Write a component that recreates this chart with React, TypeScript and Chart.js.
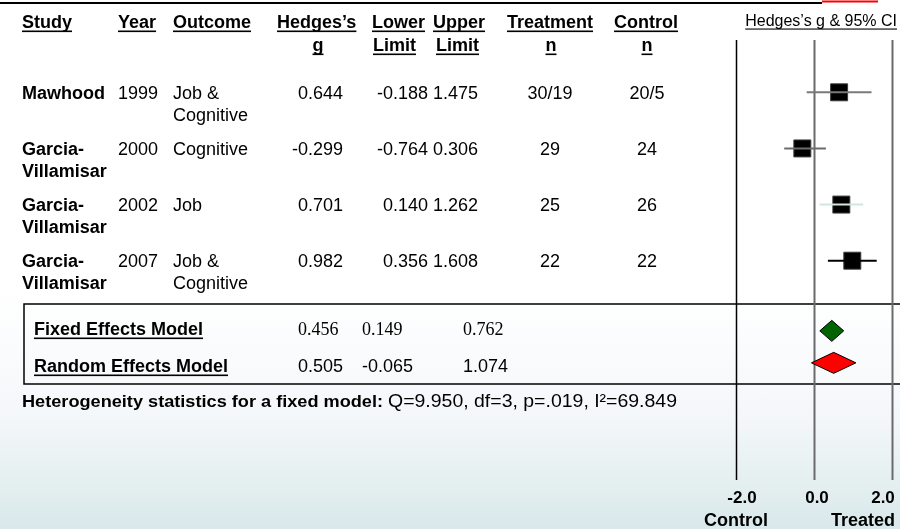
import { useEffect, useRef } from "react";
import { Chart, registerables } from "chart.js";

Chart.register(...registerables);

// ---- Study table data ----
const STUDY_NAME_1 = ["Mawhood", "Garcia-", "Garcia-", "Garcia-"];
const STUDY_NAME_2 = ["", "Villamisar", "Villamisar", "Villamisar"];
const YEARS = ["1999", "2000", "2002", "2007"];
const OUTCOME_1 = ["Job &", "Cognitive", "Job", "Job &"];
const OUTCOME_2 = ["Cognitive", "", "", "Cognitive"];
const HEDGES_G = [0.644, -0.299, 0.701, 0.982];
const LOWER_LIMIT = [-0.188, -0.764, 0.14, 0.356];
const UPPER_LIMIT = [1.475, 0.306, 1.262, 1.608];
const TREATMENT_N = ["30/19", "29", "25", "22"];
const CONTROL_N = ["20/5", "24", "26", "22"];

// ---- Pooled models ----
const MODEL_NAMES = ["Fixed Effects Model", "Random Effects Model"];
const MODEL_G = [0.456, 0.505];
const MODEL_LOWER = [0.149, -0.065];
const MODEL_UPPER = [0.762, 1.074];

// ---- Axis ----
const AXIS_TICKS = [-2, 0, 2];
const AXIS_SIDES = ["Control", "Treated"];
const HETEROGENEITY_LABEL = "Heterogeneity statistics for a fixed model:";
const HETEROGENEITY_VALUES = "Q=9.950, df=3, p=.019, I\u00B2=69.849";

// ---- Layout (row slots on the y scale, column positions in px) ----
const STUDY_ROWS = [1, 2, 3, 4];
const MODEL_ROWS = [5.25, 5.82];
const Y_MIN = 0.068;
const Y_MAX = 7.907;
const X_MAX = 2.205;
const PLOT_LEFT = 736;
const MODEL_TEXT_BASELINE = [335, 372];
const TICK_LABEL_SHIFT = [6, 3, -9];

const SANS = '"Liberation Sans", Arial, Helvetica, sans-serif';
const SERIF = '"Liberation Serif", "Times New Roman", serif';

const CI_COLORS = ["#7a7a7a", "#6c6c6c", "#cfe6e3", "#000000"];
const MODEL_FILL = ["#006400", "#ff0000"];

type Align = "left" | "right" | "center";

function put(
  ctx: CanvasRenderingContext2D,
  s: string,
  x: number,
  y: number,
  size: number,
  bold: boolean,
  align: Align = "left",
  underline = false,
  family = SANS
) {
  ctx.font = `${bold ? "bold " : ""}${size}px ${family}`;
  ctx.textAlign = align;
  ctx.textBaseline = "alphabetic";
  ctx.fillStyle = "#000";
  ctx.fillText(s, x, y);
  const w = ctx.measureText(s).width;
  if (underline) {
    const x0 = align === "left" ? x : align === "right" ? x - w : x - w / 2;
    ctx.fillRect(x0, y + 2.5, w, bold ? 1.6 : 1.1);
  }
  return w;
}

// text stretched horizontally to span [x0, x1]
function putSpan(
  ctx: CanvasRenderingContext2D,
  s: string,
  x0: number,
  x1: number,
  y: number,
  size: number,
  bold: boolean
) {
  ctx.save();
  ctx.font = `${bold ? "bold " : ""}${size}px ${SANS}`;
  const w = ctx.measureText(s).width;
  const k = (x1 - x0) / w;
  ctx.translate(x0, y);
  ctx.scale(k, 1);
  ctx.textAlign = "left";
  ctx.textBaseline = "alphabetic";
  ctx.fillStyle = "#000";
  ctx.fillText(s, 0, 0);
  ctx.restore();
}

const fmt = (v: number) => v.toFixed(3);

const forestPlugin = {
  id: "forestTable",
  beforeDatasetsDraw(chart: any) {
    const ctx: CanvasRenderingContext2D = chart.ctx;
    const xs = chart.scales.x;
    const area = chart.chartArea;
    ctx.save();
    // box around the pooled models
    ctx.strokeStyle = "#000";
    ctx.lineWidth = 1.5;
    ctx.beginPath();
    ctx.moveTo(900, 304);
    ctx.lineTo(24, 304);
    ctx.lineTo(24, 384);
    ctx.lineTo(900, 384);
    ctx.stroke();
    // reference lines at the axis ticks
    AXIS_TICKS.forEach((t, i) => {
      const px = Math.round(xs.getPixelForValue(t)) + 0.5;
      ctx.strokeStyle = i === 0 ? "#000" : "#6a6a6a";
      ctx.lineWidth = i === 0 ? 1.5 : 2;
      ctx.beginPath();
      ctx.moveTo(px, area.top);
      ctx.lineTo(px, area.bottom);
      ctx.stroke();
    });
    ctx.restore();
  },
  afterDatasetsDraw(chart: any) {
    const ctx: CanvasRenderingContext2D = chart.ctx;
    const xs = chart.scales.x;
    const ys = chart.scales.y;
    ctx.save();
    // pooled estimate diamonds
    MODEL_G.forEach((g, i) => {
      const xl = xs.getPixelForValue(MODEL_LOWER[i]);
      const xc = xs.getPixelForValue(g);
      const xu = xs.getPixelForValue(MODEL_UPPER[i]);
      const yc = ys.getPixelForValue(MODEL_ROWS[i]);
      const h = 10.5;
      ctx.beginPath();
      ctx.moveTo(xl, yc);
      ctx.lineTo(xc, yc - h);
      ctx.lineTo(xu, yc);
      ctx.lineTo(xc, yc + h);
      ctx.closePath();
      ctx.fillStyle = MODEL_FILL[i];
      ctx.fill();
      ctx.strokeStyle = "#000";
      ctx.lineWidth = 1;
      ctx.stroke();
    });
    ctx.restore();
  },
  afterDraw(chart: any) {
    const ctx: CanvasRenderingContext2D = chart.ctx;
    const xs = chart.scales.x;
    const ys = chart.scales.y;
    ctx.save();

    // top rule
    ctx.fillStyle = "#000";
    ctx.fillRect(0, 2, 822, 2);
    ctx.fillStyle = "#ff0000";
    ctx.fillRect(822, 0.5, 56, 2);

    // header
    const h1 = 28;
    const h2 = 51;
    put(ctx, "Study", 22, h1, 18, true, "left", true);
    put(ctx, "Year", 118, h1, 18, true, "left", true);
    put(ctx, "Outcome", 173, h1, 18, true, "left", true);
    put(ctx, "Hedges\u2019s", 277, h1, 18, true, "left", true);
    put(ctx, "Lower", 372, h1, 18, true, "left", true);
    put(ctx, "Upper", 433, h1, 18, true, "left", true);
    put(ctx, "Treatment", 507, h1, 18, true, "left", true);
    put(ctx, "Control", 614, h1, 18, true, "left", true);
    put(ctx, "g", 318, h2, 18, true, "center", true);
    put(ctx, "Limit", 373, h2, 18, true, "left", true);
    put(ctx, "Limit", 436, h2, 18, true, "left", true);
    put(ctx, "n", 551, h2, 18, true, "center", true);
    put(ctx, "n", 647, h2, 18, true, "center", true);
    put(ctx, "Hedges\u2019s g & 95% CI", 897, 26, 16, false, "right", true);

    // study rows
    STUDY_ROWS.forEach((r, i) => {
      const b = ys.getPixelForValue(r) + 6.5;
      const b2 = b + 22;
      put(ctx, STUDY_NAME_1[i], 22, b, 18, true);
      if (STUDY_NAME_2[i]) put(ctx, STUDY_NAME_2[i], 22, b2, 18, true);
      put(ctx, YEARS[i], 118, b, 18, false);
      put(ctx, OUTCOME_1[i], 173, b, 18, false);
      if (OUTCOME_2[i]) put(ctx, OUTCOME_2[i], 173, b2, 18, false);
      put(ctx, fmt(HEDGES_G[i]), 343, b, 18, false, "right");
      put(ctx, fmt(LOWER_LIMIT[i]), 428, b, 18, false, "right");
      put(ctx, fmt(UPPER_LIMIT[i]), 433, b, 18, false, "left");
      put(ctx, TREATMENT_N[i], 550, b, 18, false, "center");
      put(ctx, CONTROL_N[i], 647, b, 18, false, "center");
    });

    // pooled model rows
    MODEL_NAMES.forEach((name, i) => {
      const b = MODEL_TEXT_BASELINE[i];
      const fam = i === 0 ? SERIF : SANS;
      put(ctx, name, 34, b, 18, true, "left", true);
      put(ctx, fmt(MODEL_G[i]), 298, b, 18, false, "left", false, fam);
      put(ctx, fmt(MODEL_LOWER[i]), 362, b, 18, false, "left", false, fam);
      put(ctx, fmt(MODEL_UPPER[i]), 463, b, 18, false, "left", false, fam);
    });

    // heterogeneity statistics
    putSpan(ctx, HETEROGENEITY_LABEL, 22, 383, 407, 17, true);
    putSpan(ctx, HETEROGENEITY_VALUES, 388, 677, 407, 17.5, false);

    // axis labels
    AXIS_TICKS.forEach((t, i) => {
      put(ctx, t.toFixed(1), xs.getPixelForValue(t) + TICK_LABEL_SHIFT[i], 503, 17, true, "center");
    });
    put(ctx, AXIS_SIDES[0], xs.getPixelForValue(AXIS_TICKS[0]), 526, 18, true, "center");
    put(ctx, AXIS_SIDES[1], 895, 526, 18, true, "right");

    ctx.restore();
  },
};

export default function App() {
  const ref = useRef<HTMLCanvasElement>(null);

  useEffect(() => {
    const canvas = ref.current;
    if (!canvas) return;

    const ciSets = HEDGES_G.map((_, i) => ({
      data: [
        { x: LOWER_LIMIT[i], y: STUDY_ROWS[i] },
        { x: UPPER_LIMIT[i], y: STUDY_ROWS[i] },
      ],
      showLine: true,
      borderColor: CI_COLORS[i],
      borderWidth: 2,
      pointRadius: 0,
    }));

    const squares = {
      data: HEDGES_G.map((g, i) => ({ x: g, y: STUDY_ROWS[i] })),
      pointStyle: "rect" as const,
      pointRadius: 12,
      backgroundColor: "#000",
      borderColor: "#3c3c3c",
      borderWidth: 1,
    };

    const chart = new Chart(canvas, {
      type: "scatter",
      data: { datasets: [...ciSets, squares] as any },
      options: {
        animation: false,
        responsive: false,
        devicePixelRatio: 1,
        events: [],
        layout: {
          autoPadding: false,
          padding: { left: PLOT_LEFT, right: 0, top: 40, bottom: 49 },
        },
        scales: {
          x: { type: "linear", display: false, min: -2, max: X_MAX },
          y: { type: "linear", display: false, reverse: true, min: Y_MIN, max: Y_MAX },
        },
        plugins: { legend: { display: false }, tooltip: { enabled: false } },
      },
      plugins: [forestPlugin],
    });

    return () => chart.destroy();
  }, []);

  return (
    <div
      style={{
        position: "fixed",
        left: 0,
        top: 0,
        width: 900,
        height: 529,
        background:
          "linear-gradient(to bottom, #ffffff 0%, #ffffff 55%, #f4f7fa 79%, #e6f0f1 90%, #d9e8eb 100%)",
      }}
    >
      <canvas ref={ref} width={900} height={529} style={{ display: "block" }} />
    </div>
  );
}
